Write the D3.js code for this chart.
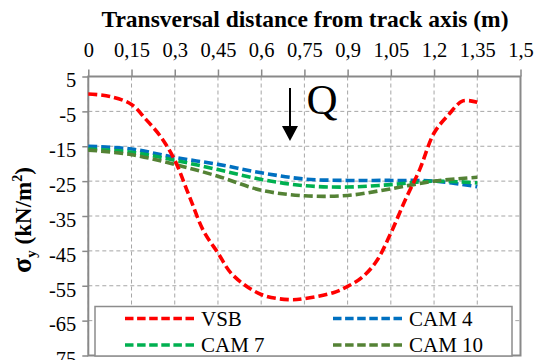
<!DOCTYPE html>
<html>
<head>
<meta charset="utf-8">
<script src="https://cdn.jsdelivr.net/npm/d3@7/dist/d3.min.js"></script>
<style>
  html, body { margin: 0; padding: 0; background: #fff; }
</style>
</head>
<body>
<div id="chart"></div>
<script>
// ---- data ----
const xTicks = [0, 0.15, 0.3, 0.45, 0.6, 0.75, 0.9, 1.05, 1.2, 1.35, 1.5];
const xTickLabels = ["0", "0,15", "0,3", "0,45", "0,6", "0,75", "0,9", "1,05", "1,2", "1,35", "1,5"];
const yTicks = [5, -5, -15, -25, -35, -45, -55, -65, -75];

const xVSB = [0, 0.075, 0.15, 0.2, 0.25, 0.3, 0.35, 0.4, 0.45, 0.5, 0.6, 0.7, 0.75, 0.85, 0.9, 0.95, 1.0, 1.05, 1.1, 1.15, 1.2, 1.25, 1.3, 1.35];
const vsb  = [0, -0.7, -3.0, -7.3, -12.1, -19.0, -29.2, -39.3, -45.6, -51.8, -57.5, -59.0, -58.7, -57.0, -55.2, -52.6, -48.0, -39.9, -30.4, -21.7, -11.2, -6.0, -2.0, -2.4];

const xCAM  = [0, 0.15, 0.3, 0.45, 0.6, 0.75, 0.9, 1.05, 1.2, 1.35];
const cam4  = [-15.0, -15.8, -18.2, -20.2, -22.6, -24.4, -24.8, -24.8, -25.0, -26.6];
const cam7  = [-15.8, -16.7, -19.0, -21.7, -24.5, -26.3, -26.7, -26.0, -25.0, -25.5];
const cam10 = [-16.1, -17.4, -20.2, -23.6, -27.6, -29.2, -29.1, -27.2, -25.0, -23.9];

const seriesNames = ["VSB", "CAM 4", "CAM 7", "CAM 10"];
const seriesColors = ["#ff0000", "#0070c0", "#00b050", "#548235"];

// annotation (load arrow and label) in data units
const arrowX = 0.70, arrowTop = 1.7, arrowTip = -13.5;
const qX = 0.757, qY = -5.75;

// ---- chart ----
const W = 536, H = 360;
const FONT = "'Liberation Serif', 'Times New Roman', monospace";
const svg = d3.select("#chart").append("svg").attr("width", W).attr("height", H);

const x = d3.scaleLinear().domain([0, 1.5]).range([88.3, 520.5]);
const y = d3.scaleLinear().domain([-75, 5]).range([355.5, 76.5]);

const gridColor = "#a6a6a6";
const axisColor = "#898989";

// grid lines
const grid = svg.append("g");
grid.selectAll("line.v").data(xTicks).join("line")
  .attr("x1", d => x(d)).attr("x2", d => x(d))
  .attr("y1", y(5)).attr("y2", y(-75))
  .attr("stroke", gridColor).attr("stroke-width", 1).attr("stroke-dasharray", "4,3");
grid.selectAll("line.h").data(yTicks).join("line")
  .attr("x1", x(0)).attr("x2", x(1.5))
  .attr("y1", d => y(d)).attr("y2", d => y(d))
  .attr("stroke", gridColor).attr("stroke-width", 1).attr("stroke-dasharray", "4,3");

// axes
const xAxis = d3.axisTop(x).tickValues(xTicks)
  .tickFormat((d, i) => xTickLabels[i]).tickSize(7).tickPadding(13);
const gx = svg.append("g").attr("transform", `translate(0,${y(5)})`).call(xAxis);
const yAxis = d3.axisLeft(y).tickValues(yTicks).tickFormat(d => String(d)).tickSize(6).tickPadding(6);
const gy = svg.append("g").attr("transform", `translate(${x(0)},0)`).call(yAxis);
[gx, gy].forEach(g => {
  g.attr("font-family", FONT).attr("font-size", 20);
  g.select(".domain").remove();
  g.selectAll(".tick line").attr("stroke", axisColor).attr("stroke-width", 1.5);
  g.selectAll(".tick text").attr("fill", "#000")
    .attr("font-family", FONT).attr("font-size", 20.5);
});
gy.selectAll(".tick text").attr("dy", "0.5em");

// plot border
svg.append("rect")
  .attr("x", x(0)).attr("y", y(5))
  .attr("width", x(1.5) - x(0)).attr("height", y(-75) - y(5))
  .attr("fill", "none").attr("stroke", axisColor).attr("stroke-width", 2);

// titles
svg.append("text")
  .attr("x", 305).attr("y", 27)
  .attr("text-anchor", "middle").attr("font-weight", "bold")
  .attr("font-family", FONT).attr("font-size", 23.5)
  .text("Transversal distance from track axis (m)");

const yt = svg.append("text")
  .attr("transform", `translate(31,220) rotate(-90)`)
  .attr("text-anchor", "middle").attr("font-weight", "bold")
  .attr("font-family", FONT).attr("font-size", 23);
yt.append("tspan").text("σ").attr("font-size", 28);
yt.append("tspan").text("y").attr("font-size", 15).attr("dy", "5");
yt.append("tspan").text(" (kN/m").attr("dy", "-5");
yt.append("tspan").text("2").attr("font-size", 14).attr("dy", "-9");
yt.append("tspan").text(")").attr("dy", "9");

// series
const line = d3.line().x(d => x(d[0])).y(d => y(d[1])).curve(d3.curveCatmullRom);
const seriesData = [
  d3.zip(xVSB, vsb),
  d3.zip(xCAM, cam4),
  d3.zip(xCAM, cam7),
  d3.zip(xCAM, cam10)
];
const drawOrder = [1, 2, 3, 0];
drawOrder.forEach(i => {
  svg.append("path").datum(seriesData[i])
    .attr("d", line)
    .attr("fill", "none")
    .attr("stroke", seriesColors[i])
    .attr("stroke-width", 3.6)
    .attr("stroke-dasharray", "9,4");
});

// annotation: load arrow + Q
const ax = x(arrowX);
svg.append("line")
  .attr("x1", ax).attr("x2", ax)
  .attr("y1", y(arrowTop)).attr("y2", y(arrowTip) - 12)
  .attr("stroke", "#000").attr("stroke-width", 2);
svg.append("path")
  .attr("d", `M${ax - 8},${y(arrowTip) - 15} L${ax + 8},${y(arrowTip) - 15} L${ax},${y(arrowTip)} Z`)
  .attr("fill", "#000");
svg.append("text")
  .attr("x", x(qX)).attr("y", y(qY))
  .attr("font-family", FONT).attr("font-size", 43).text("Q");

// legend
const lg = svg.append("g");
lg.append("rect")
  .attr("x", 95).attr("y", 306.5).attr("width", 417).attr("height", 49.5)
  .attr("fill", "#fff").attr("stroke", "#8c8c8c").attr("stroke-width", 1.5);
const legPos = [
  { lx: 125, tx: 201, cy: 318.5 },
  { lx: 333, tx: 409, cy: 318.5 },
  { lx: 125, tx: 201, cy: 345 },
  { lx: 333, tx: 409, cy: 345 }
];
seriesNames.forEach((name, i) => {
  const p = legPos[i];
  lg.append("line")
    .attr("x1", p.lx).attr("x2", p.lx + 69)
    .attr("y1", p.cy).attr("y2", p.cy)
    .attr("stroke", seriesColors[i]).attr("stroke-width", 3.6)
    .attr("stroke-dasharray", "8.5,3.6");
  lg.append("text")
    .attr("x", p.tx).attr("y", p.cy).attr("dy", "0.35em")
    .attr("font-family", FONT).attr("font-size", 21).text(name);
});
</script>
</body>
</html>
